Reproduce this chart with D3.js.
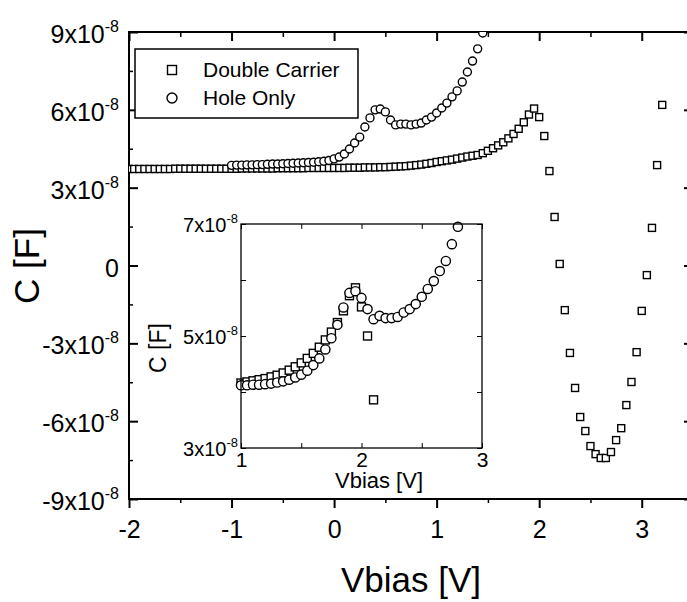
<!DOCTYPE html>
<html>
<head>
<meta charset="utf-8">
<script src="https://cdn.jsdelivr.net/npm/d3@7"></script>
<style>
  body { margin: 0; background: #fff; }
  svg { font-family: "Liberation Sans", Arial, Helvetica, sans-serif; }
</style>
</head>
<body>
<svg width="687" height="602"></svg>
<script>
// values in units of 1e-8 F
var dcV = [-2.00,-1.95,-1.90,-1.85,-1.80,-1.75,-1.70,-1.65,-1.60,-1.55,-1.50,-1.45,-1.40,-1.35,-1.30,-1.25,-1.20,-1.15,-1.10,-1.05,
    -1.00,-0.95,-0.90,-0.85,-0.80,-0.75,-0.70,-0.65,-0.60,-0.55,-0.50,-0.45,-0.40,-0.35,-0.30,-0.25,-0.20,-0.15,-0.10,-0.05,
    0.00,0.05,0.10,0.15,0.20,0.25,0.30,0.35,0.40,0.45,0.50,
    0.55,0.60,0.65,0.70,0.75,0.80,0.85,0.90,0.95,1.00,1.05,1.10,1.15,1.20,1.25,1.30,1.35,1.40,1.45,1.50,1.55,1.60,1.65,1.70,1.75,1.80,1.85,1.90,
    1.95,2.00,2.05,2.10,2.15,2.20,2.25,2.30,2.35,2.40,2.45,2.50,2.55,2.60,2.65,2.70,2.75,2.80,2.85,2.90,2.95,3.00,3.05,3.10,3.15,3.20];
var dcC = [3.72,3.72,3.72,3.72,3.72,3.72,3.72,3.72,3.72,3.73,3.73,3.73,3.73,3.73,3.73,3.73,3.73,3.73,3.73,3.73,
    3.73,3.73,3.74,3.74,3.74,3.74,3.74,3.74,3.74,3.75,3.75,3.75,3.75,3.75,3.75,3.76,3.76,3.76,3.76,3.76,
    3.76,3.76,3.76,3.77,3.77,3.77,3.78,3.78,3.78,3.79,3.79,
    3.80,3.81,3.82,3.83,3.85,3.87,3.89,3.92,3.95,3.99,4.02,4.05,4.08,4.12,4.16,4.20,4.23,4.26,4.33,4.42,4.52,4.63,4.75,4.90,5.07,5.27,5.52,5.82,
    6.05,5.72,4.99,3.64,1.87,0.06,-1.72,-3.37,-4.72,-5.84,-6.38,-6.96,-7.27,-7.42,-7.42,-7.19,-6.73,-6.27,-5.38,-4.49,-3.34,-1.75,-0.37,1.45,3.87,6.19];

var hoV = [-1.00,-0.95,-0.90,-0.85,-0.80,-0.75,-0.70,-0.65,-0.60,-0.55,-0.50,-0.45,-0.40,-0.35,-0.30,-0.25,-0.20,-0.15,-0.10,-0.05,
    0.00,0.05,0.10,0.15,0.20,0.25,0.30,0.35,0.40,0.45,0.50,0.55,0.60,0.65,0.70,0.75,0.80,0.85,0.90,0.95,
    1.00,1.05,1.10,1.15,1.20,1.25,1.30,1.35,1.40,1.45];
var hoC = [3.86,3.87,3.87,3.88,3.88,3.89,3.89,3.90,3.91,3.91,3.92,3.93,3.94,3.95,3.96,3.97,3.98,4.00,4.02,4.05,
    4.11,4.18,4.30,4.49,4.72,4.95,5.34,5.69,6.00,6.03,5.92,5.61,5.42,5.45,5.45,5.42,5.45,5.49,5.61,5.72,
    5.88,6.07,6.26,6.50,6.73,7.07,7.46,7.88,8.35,8.96];

// inset
var inDcV = [1.00,1.05,1.10,1.15,1.20,1.25,1.30,1.35,1.40,1.45,1.50,1.55,1.60,1.65,1.70,1.75,1.80,1.85,1.90,1.95,2.00,2.05,2.10];
var inDcC = [4.16,4.18,4.20,4.22,4.24,4.27,4.30,4.34,4.39,4.45,4.52,4.60,4.69,4.80,4.93,5.07,5.24,5.45,5.72,5.86,5.52,5.00,3.86];
var inHoV = [1.00,1.05,1.10,1.15,1.20,1.25,1.30,1.35,1.40,1.45,1.50,1.55,1.60,1.65,1.70,1.75,1.80,1.85,1.90,1.95,
    2.00,2.05,2.10,2.15,2.20,2.25,2.30,2.35,2.40,2.45,2.50,2.55,2.60,2.65,2.70,2.75,2.80];
var inHoC = [4.12,4.12,4.13,4.13,4.14,4.15,4.17,4.19,4.22,4.26,4.31,4.38,4.48,4.60,4.76,4.96,5.20,5.51,5.77,5.80,
    5.68,5.48,5.30,5.36,5.32,5.32,5.34,5.42,5.48,5.57,5.70,5.84,5.98,6.16,6.34,6.64,6.95];

var xTicks = [-2, -1, 0, 1, 2, 3];
var xMinor = [-1.5, -0.5, 0.5, 1.5, 2.5, 3.5];
var yTicks = [-9, -6, -3, 0, 3, 6, 9];
var yMinor = [-7.5, -4.5, -1.5, 1.5, 4.5, 7.5];
var inXTicks = [1, 2, 3];
var inXMinor = [1.5, 2.5];
var inYTicks = [3, 5, 7];
var inYMinor = [4, 6];
var legendLabels = ["Double Carrier", "Hole Only"];

var svg = d3.select("svg");

var x = d3.scaleLinear().domain([-2, 3.5]).range([129, 693]);
var y = d3.scaleLinear().domain([-9, 9]).range([499, 32]);

function plain(d) { return String(d); }

function sciLabel(sel, size, supSize, supDy) {
    sel.each(function(d) {
        var t = d3.select(this);
        t.text(null);
        if (d === 0) { t.text("0"); return; }
        t.append("tspan").text(d + "x10");
        t.append("tspan").attr("dy", supDy).attr("font-size", supSize).text("-8");
    });
    sel.attr("font-size", size);
}

function clean(g) {
    g.select(".domain").remove();
    g.selectAll("line").attr("stroke", "#000");
    g.selectAll("text").attr("fill", "#000").attr("font-family", null);
}

// main axes
svg.append("g").attr("transform", "translate(129,0)")
    .call(d3.axisLeft(y).tickValues(yTicks).tickSize(-9).tickPadding(10))
    .call(clean)
    .call(function(g) {
        g.selectAll("line").attr("stroke-width", 2);
        g.selectAll("text").attr("dy", "0.42em").call(sciLabel, 25, 16, -11);
    });
svg.append("g").attr("transform", "translate(129,0)")
    .call(d3.axisLeft(y).tickValues(yMinor).tickSize(-4).tickFormat(""))
    .call(clean).selectAll("line").attr("stroke-width", 1.5);
svg.append("g").attr("transform", "translate(693,0)")
    .call(d3.axisRight(y).tickValues(yTicks).tickSize(-9).tickFormat(""))
    .call(clean).selectAll("line").attr("stroke-width", 2);

svg.append("g").attr("transform", "translate(0,499)")
    .call(d3.axisBottom(x).tickValues(xTicks).tickSize(9).tickPadding(12).tickFormat(plain))
    .call(clean)
    .call(function(g) {
        g.selectAll("line").attr("stroke-width", 2);
        g.selectAll("text").attr("font-size", 25);
    });
svg.append("g").attr("transform", "translate(0,499)")
    .call(d3.axisBottom(x).tickValues(xMinor).tickSize(4).tickFormat(""))
    .call(clean).selectAll("line").attr("stroke-width", 1.5);
svg.append("g").attr("transform", "translate(0,32)")
    .call(d3.axisTop(x).tickValues(xTicks).tickSize(-9).tickFormat(""))
    .call(clean).selectAll("line").attr("stroke-width", 2);
svg.append("g").attr("transform", "translate(0,32)")
    .call(d3.axisTop(x).tickValues(xMinor).tickSize(-5).tickFormat(""))
    .call(clean).selectAll("line").attr("stroke-width", 1.5);

svg.append("rect")
    .attr("x", x(-2)).attr("y", y(9))
    .attr("width", x(3.5) - x(-2)).attr("height", y(-9) - y(9))
    .attr("fill", "none").attr("stroke", "#000").attr("stroke-width", 2);

svg.append("clipPath").attr("id", "mainClip").append("rect")
    .attr("x", x(-2)).attr("y", y(9))
    .attr("width", x(3.5) - x(-2)).attr("height", y(-9) - y(9));

var plot = svg.append("g").attr("clip-path", "url(#mainClip)");

function squares(g, vs, cs, xs, ys, s, sw) {
    g.selectAll(null).data(vs).enter().append("rect")
        .attr("x", function(d) { return xs(d) - s / 2; })
        .attr("y", function(d, i) { return ys(cs[i]) - s / 2; })
        .attr("width", s).attr("height", s)
        .attr("fill", "#fff").attr("stroke", "#000").attr("stroke-width", sw);
}
function circles(g, vs, cs, xs, ys, r, sw) {
    g.selectAll(null).data(vs).enter().append("circle")
        .attr("cx", function(d) { return xs(d); })
        .attr("cy", function(d, i) { return ys(cs[i]); })
        .attr("r", r)
        .attr("fill", "#fff").attr("stroke", "#000").attr("stroke-width", sw);
}

squares(plot.append("g"), dcV, dcC, x, y, 7, 1.4);
circles(plot.append("g"), hoV, hoC, x, y, 4, 1.4);

// legend
var leg = svg.append("g");
leg.append("rect").attr("x", 135).attr("y", 49).attr("width", 223).attr("height", 69)
    .attr("fill", "#fff").attr("stroke", "#000").attr("stroke-width", 1.5);
leg.append("rect").attr("x", 167.5).attr("y", 65.5).attr("width", 9).attr("height", 9)
    .attr("fill", "#fff").attr("stroke", "#000").attr("stroke-width", 1.4);
leg.append("circle").attr("cx", 172).attr("cy", 98).attr("r", 5)
    .attr("fill", "#fff").attr("stroke", "#000").attr("stroke-width", 1.4);
leg.selectAll("text").data(legendLabels).enter().append("text")
    .attr("x", 203).attr("y", function(d, i) { return 77 + i * 28; })
    .attr("font-size", 21).text(function(d) { return d; });

// main labels
svg.append("text").attr("x", 411).attr("y", 592).attr("text-anchor", "middle")
    .attr("font-size", 35).text("Vbias [V]");
svg.append("text").attr("transform", "translate(39,266) rotate(-90)")
    .attr("text-anchor", "middle").attr("font-size", 35).text("C [F]");

// inset
var xi = d3.scaleLinear().domain([1, 3]).range([241, 482]);
var yi = d3.scaleLinear().domain([3, 7]).range([448, 224]);

svg.append("rect").attr("x", xi(1)).attr("y", yi(7))
    .attr("width", xi(3) - xi(1)).attr("height", yi(3) - yi(7))
    .attr("fill", "#fff");

var ins = svg.append("g");
ins.append("g").attr("transform", "translate(241,0)")
    .call(d3.axisLeft(yi).tickValues(inYTicks.concat(inYMinor)).tickSize(-5).tickPadding(3))
    .call(clean)
    .call(function(g) {
        g.selectAll("text").filter(function(d) { return inYTicks.indexOf(d) < 0; }).remove();
        g.selectAll("text").attr("dy", "0.36em").call(sciLabel, 20, 13, -9);
    });
ins.append("g").attr("transform", "translate(482,0)")
    .call(d3.axisRight(yi).tickValues(inYTicks.concat(inYMinor)).tickSize(-5).tickFormat(""))
    .call(clean);
ins.append("g").attr("transform", "translate(0,448)")
    .call(d3.axisBottom(xi).tickValues(inXTicks.concat(inXMinor)).tickSize(-5).tickPadding(4).tickFormat(plain))
    .call(clean)
    .call(function(g) {
        g.selectAll("text").filter(function(d) { return inXTicks.indexOf(d) < 0; }).remove();
        g.selectAll("text").attr("font-size", 21);
    });
ins.append("g").attr("transform", "translate(0,224)")
    .call(d3.axisTop(xi).tickValues(inXTicks.concat(inXMinor)).tickSize(-5).tickFormat(""))
    .call(clean);

squares(ins.append("g"), inDcV, inDcC, xi, yi, 8, 1.4);
circles(ins.append("g"), inHoV, inHoC, xi, yi, 4.6, 1.4);

ins.append("rect").attr("x", xi(1)).attr("y", yi(7))
    .attr("width", xi(3) - xi(1)).attr("height", yi(3) - yi(7))
    .attr("fill", "none").attr("stroke", "#000").attr("stroke-width", 1.3);

ins.append("text").attr("x", 379).attr("y", 488).attr("text-anchor", "middle")
    .attr("font-size", 22).text("Vbias [V]");
ins.append("text").attr("transform", "translate(166,348) rotate(-90)")
    .attr("text-anchor", "middle").attr("font-size", 23).text("C [F]");
</script>
</body>
</html>
